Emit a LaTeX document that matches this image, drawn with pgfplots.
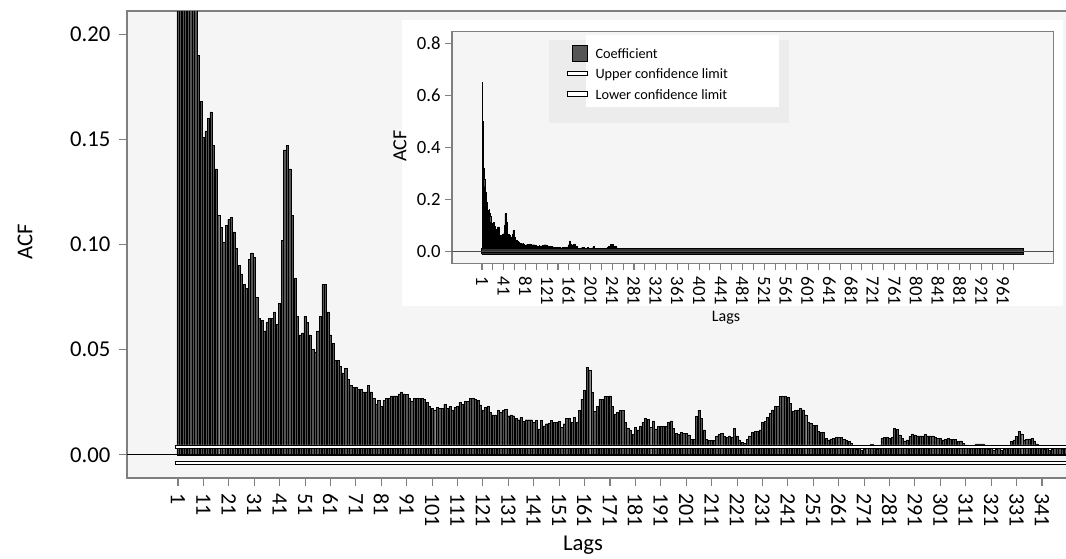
\documentclass[border=0pt]{standalone}
\usepackage{pgfplots}
\pgfplotsset{compat=1.18}
\usepackage{pgfplotstable}
\usepackage{fontspec}
\setmainfont{Carlito}

\definecolor{panel}{HTML}{F5F5F5}
\definecolor{framegray}{HTML}{7F7F7F}
\definecolor{bargray}{HTML}{555555}
\definecolor{legendgray}{HTML}{ECECEC}

% ACF coefficients, lags 1-350
\pgfplotstableread{
lag acf
1 0.650
2 0.500
3 0.380
4 0.320
5 0.280
6 0.250
7 0.230
8 0.215
9 0.190
10 0.168
11 0.151
12 0.154
13 0.160
14 0.163
15 0.147
16 0.136
17 0.114
18 0.108
19 0.101
20 0.109
21 0.112
22 0.113
23 0.106
24 0.098
25 0.090
26 0.086
27 0.081
28 0.079
29 0.093
30 0.096
31 0.094
32 0.075
33 0.065
34 0.064
35 0.059
36 0.063
37 0.065
38 0.065
39 0.068
40 0.062
41 0.072
42 0.102
43 0.145
44 0.147
45 0.136
46 0.114
47 0.084
48 0.066
49 0.057
50 0.058
51 0.066
52 0.063
53 0.057
54 0.050
55 0.049
56 0.059
57 0.066
58 0.081
59 0.081
60 0.068
61 0.057
62 0.053
63 0.045
64 0.045
65 0.042
66 0.039
67 0.041
68 0.036
69 0.033
70 0.032
71 0.032
72 0.031
73 0.031
74 0.030
75 0.030
76 0.033
77 0.030
78 0.027
79 0.024
80 0.026
81 0.023
82 0.026
83 0.027
84 0.027
85 0.028
86 0.028
87 0.028
88 0.029
89 0.030
90 0.029
91 0.0286
92 0.0267
93 0.0257
94 0.027
95 0.027
96 0.027
97 0.027
98 0.0265
99 0.025
100 0.023
101 0.022
102 0.0214
103 0.0227
104 0.022
105 0.022
106 0.024
107 0.022
108 0.023
109 0.021
110 0.0227
111 0.023
112 0.025
113 0.024
114 0.0254
115 0.0254
116 0.027
117 0.027
118 0.0265
119 0.026
120 0.0238
121 0.0211
122 0.0227
123 0.023
124 0.0203
125 0.019
126 0.019
127 0.021
128 0.0203
129 0.0213
130 0.0217
131 0.0186
132 0.019
133 0.0186
134 0.0175
135 0.0167
136 0.018
137 0.016
138 0.0167
139 0.0167
140 0.0167
141 0.0156
142 0.0164
143 0.0124
144 0.0164
145 0.0138
146 0.0148
147 0.0151
148 0.0164
149 0.0156
150 0.0156
151 0.016
152 0.0132
153 0.0148
154 0.0175
155 0.0175
156 0.0156
157 0.0178
158 0.0154
159 0.0211
160 0.0265
161 0.0306
162 0.0416
163 0.0400
164 0.0297
165 0.0206
166 0.023
167 0.0265
168 0.0265
169 0.0278
170 0.0278
171 0.0281
172 0.023
173 0.0194
174 0.0203
175 0.021
176 0.021
177 0.0154
178 0.0127
179 0.0119
180 0.0099
181 0.013
182 0.0119
183 0.0135
184 0.0154
185 0.0175
186 0.017
187 0.0132
188 0.0162
189 0.0124
190 0.0135
191 0.0135
192 0.0135
193 0.0135
194 0.0154
195 0.0162
196 0.0127
197 0.0103
198 0.0099
199 0.0106
200 0.0103
201 0.0103
202 0.0095
203 0.0075
204 0.0075
205 0.0182
206 0.0211
207 0.0174
208 0.0119
209 0.0075
210 0.0068
211 0.0068
212 0.0068
213 0.009
214 0.0098
215 0.0103
216 0.0087
217 0.0082
218 0.009
219 0.0082
220 0.0127
221 0.009
222 0.0071
223 0.0059
224 0.0055
225 0.0075
226 0.009
227 0.0106
228 0.011
229 0.011
230 0.0119
231 0.0154
232 0.0159
233 0.018
234 0.0198
235 0.0214
236 0.023
237 0.023
238 0.0278
239 0.0278
240 0.0278
241 0.0275
242 0.0246
243 0.0206
244 0.0211
245 0.0214
246 0.0222
247 0.0214
248 0.019
249 0.0155
250 0.0151
251 0.014
252 0.014
253 0.011
254 0.0108
255 0.0106
256 0.0079
257 0.0071
258 0.0076
259 0.0079
260 0.0082
261 0.0082
262 0.0084
263 0.0075
264 0.0068
265 0.0063
266 0.0055
267 0.003
268 0.0025
269 0.003
270 0.002
271 0.0025
272 0.003
273 0.0035
274 0.005
275 0.003
276 0.0025
277 0.003
278 0.0079
279 0.0082
280 0.0082
281 0.0079
282 0.0084
283 0.0127
284 0.0122
285 0.0095
286 0.0079
287 0.0067
288 0.0071
289 0.0087
290 0.010
291 0.0095
292 0.009
293 0.009
294 0.009
295 0.0098
296 0.009
297 0.009
298 0.009
299 0.0082
300 0.0079
301 0.0079
302 0.0071
303 0.0075
304 0.0079
305 0.0075
306 0.0075
307 0.0075
308 0.0063
309 0.0067
310 0.0055
311 0.0048
312 0.003
313 0.003
314 0.0035
315 0.0052
316 0.0052
317 0.0052
318 0.0052
319 0.003
320 0.0025
321 0.003
322 0.002
323 0.0025
324 0.003
325 0.002
326 0.0025
327 0.003
328 0.0035
329 0.0063
330 0.0071
331 0.0087
332 0.011
333 0.010
334 0.0071
335 0.0075
336 0.0076
337 0.0079
338 0.0067
339 0.0052
340 0.0045
341 0.003
342 0.0025
343 0.003
344 0.002
345 0.0025
346 0.003
347 0.0035
348 0.003
349 0.0025
350 0.003
}\acftable

\begin{document}
\begin{tikzpicture}[x=1pt,y=1pt]
\useasboundingbox (0,0) rectangle (799.5,418.5);

% main chart, lags 1-350
\begin{axis}[
    at={(95.25pt,60pt)}, anchor=south west,
    scale only axis, width=707.2pt, height=350.25pt,
    xmin=-19.07, xmax=352, ymin=-0.011, ymax=0.211,
    axis background/.style={fill=panel},
    axis line style={framegray, line width=0.8pt},
    tick align=outside, xtick pos=bottom, ytick pos=left,
    major tick length=6pt,
    tick style={framegray, line width=0.8pt},
    xtick={1,11,...,341},
    ytick={0,0.05,0.1,0.15,0.2},
    scaled y ticks=false,
    yticklabel style={font=\fontsize{17}{20}\selectfont,
        /pgf/number format/.cd, fixed, fixed zerofill, precision=2},
    /pgf/number format/assume math mode=true,
    yticklabel shift=3pt, xticklabel shift=2pt,
    xticklabel style={rotate=-90, anchor=west, font=\fontsize{16.5}{19}\selectfont},
    label style={font=\fontsize{17}{20}\selectfont},
    xlabel={Lags}, ylabel={ACF},
    xlabel style={at={(axis description cs:0.4836,-0.1435)}, anchor=center},
    ylabel style={at={(axis description cs:-0.108,0.505)}, anchor=center},
]
\addplot[ybar, bar width=0.85, bar shift=0pt, fill=bargray, draw=black, line width=0.35pt]
    table[x=lag, y=acf] {\acftable};
% upper and lower confidence limits
\addplot[fill=white, draw=black, line width=0.5pt]
    coordinates {(0,0.0029) (400,0.0029) (400,0.0047) (0,0.0047) (0,0.0029)};
\addplot[fill=white, draw=black, line width=0.5pt]
    coordinates {(0,-0.0044) (400,-0.0044) (400,-0.0029) (0,-0.0029) (0,-0.0044)};
\addplot[black, line width=0.7pt] coordinates {(-30,0) (400,0)};
\end{axis}

% white panel behind the inset
\fill[white] (301.5,189) rectangle (797.25,403.5);

% inset, lags 1-1000
\begin{axis}[
    at={(339pt,221pt)}, anchor=south west,
    scale only axis, width=451pt, height=173.7pt,
    xmin=-54.3, xmax=1053.7, ymin=-0.0445, ymax=0.8445,
    axis background/.style={fill=panel},
    axis line style={framegray, line width=0.8pt},
    tick align=outside, xtick pos=bottom, ytick pos=left,
    major tick length=5pt, minor tick length=5pt,
    tick style={framegray, line width=0.8pt},
    xtick={1,41,...,961}, minor xtick={21,61,...,981},
    ytick={0,0.2,0.4,0.6,0.8},
    yticklabel style={/pgf/number format/.cd, fixed, fixed zerofill, precision=1},
    /pgf/number format/assume math mode=true,
    xticklabel shift=1.5pt,
    xticklabel style={rotate=-90, anchor=west},
    ticklabel style={font=\fontsize{14}{16}\selectfont},
    xlabel={Lags}, ylabel={ACF},
    xlabel style={font=\fontsize{12}{14}\selectfont, at={(axis description cs:0.4557,-0.236)}, anchor=center},
    ylabel style={font=\fontsize{15}{18}\selectfont, at={(axis description cs:-0.0865,0.506)}, anchor=center},
    legend cell align=left,
    legend style={at={(rel axis cs:0.184,0.955)}, anchor=north west,
        draw=none, fill=none, font=\fontsize{10.7}{14}\selectfont, row sep=2.3pt,
        /tikz/every odd column/.append style={column sep=4pt}},
]
\fill[legendgray] (rel axis cs:0.1608,0.6045) rectangle (rel axis cs:0.5597,0.9642);
\fill[white] (rel axis cs:0.2228,0.6749) rectangle (rel axis cs:0.5438,0.9858);
\addplot[const plot, fill=black, draw=black, line width=0.3pt,
    legend image code/.code={\draw[fill=bargray, draw=black, line width=0.5pt] (4pt,-5pt) rectangle (15pt,7pt);}]
    table[x=lag, y=acf] {\acftable} \closedcycle;
\addlegendentry{Coefficient}
\addplot[fill=black!80, draw=black, line width=0.4pt,
    legend image code/.code={\draw[fill=white, draw=black, line width=0.5pt] (0pt,-0.5pt) rectangle (15pt,3pt);}]
    coordinates {(0.5,0.003) (998,0.003) (998,0.012) (0.5,0.012) (0.5,0.003)};
\addlegendentry{Upper confidence limit}
\addplot[fill=black!80, draw=black, line width=0.4pt,
    legend image code/.code={\draw[fill=white, draw=black, line width=0.5pt] (0pt,-0.5pt) rectangle (15pt,3pt);}]
    coordinates {(0.5,-0.009) (998,-0.009) (998,-0.003) (0.5,-0.003) (0.5,-0.009)};
\addlegendentry{Lower confidence limit}
\addplot[black!70, line width=0.6pt, forget plot] coordinates {(-60,0) (1100,0)};
\end{axis}
\end{tikzpicture}
\end{document}
